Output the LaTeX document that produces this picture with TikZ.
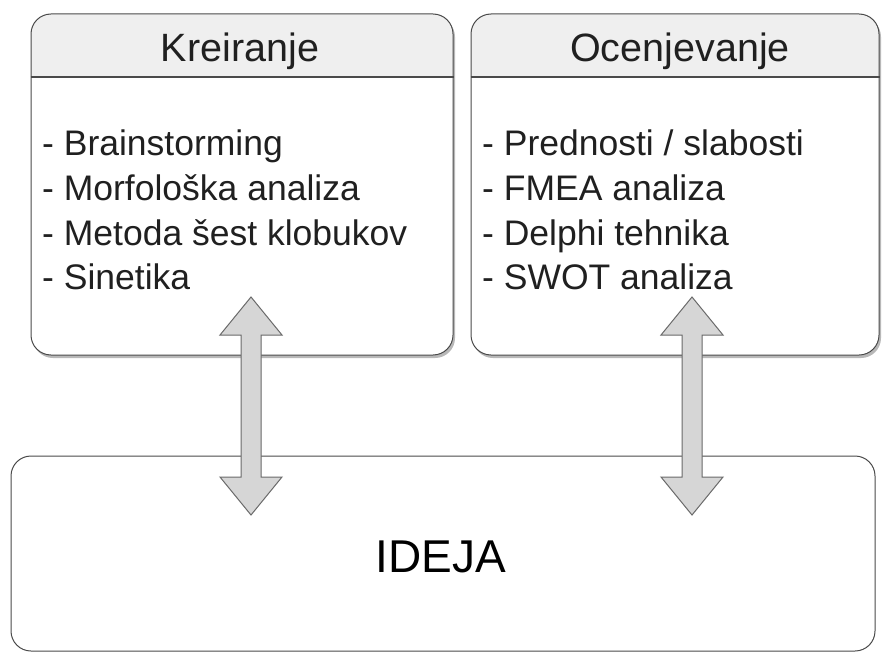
\documentclass[tikz,border=0pt]{standalone}
\usepackage{fontspec}
\setmainfont{Liberation Sans}
\usetikzlibrary{calc}
\definecolor{edge}{HTML}{4A4A4A}
\definecolor{hdr}{HTML}{EFEFEF}
\definecolor{shade}{HTML}{B8B8B8}
\definecolor{arrfill}{HTML}{D6D6D6}
\definecolor{arredge}{HTML}{6A6A6A}
\definecolor{txt}{HTML}{202020}
\newcommand\blockarrow[2]{%
  \draw[arrowshape] (#1) -- ($(#1)+(31,38)$) -- ($(#1)+(10,38)$) -- ($(#2)+(10,-38)$) -- ($(#2)+(31,-38)$) -- (#2)
    -- ($(#2)+(-31,-38)$) -- ($(#2)+(-10,-38)$) -- ($(#1)+(-10,38)$) -- ($(#1)+(-31,38)$) -- cycle;}
\begin{document}
\begin{tikzpicture}[x=1pt,y=-1pt,
  panel/.style={draw=edge, line width=1pt, rounded corners=20pt, rectangle, inner sep=0pt},
  shadowbox/.style={fill=shade, rounded corners=20pt},
  title/.style={anchor=base, text=txt, font=\fontsize{39.5}{44}\selectfont, inner sep=0pt},
  item/.style={anchor=base west, text=txt, font=\fontsize{35.5}{40}\selectfont, inner sep=0pt},
  big/.style={anchor=base, text=black, font=\fontsize{46}{50}\selectfont, inner sep=0pt},
  arrowshape/.style={fill=arrfill, draw=arredge, line width=1pt, line join=miter}]
\fill[white] (0,0) rectangle (882,655);
\useasboundingbox (0,0) rectangle (882,655);
% shadows
\fill[shadowbox] (33,17) rectangle (455,358);
\fill[shadowbox] (473,17) rectangle (881,358);
\fill[white, rounded corners=20pt] (31,14) rectangle (453,355);
\fill[white, rounded corners=20pt] (471,14) rectangle (879,355);
% header fills
\begin{scope}
\clip[rounded corners=20pt] (31,14) rectangle (453,355);
\fill[hdr] (31,14) rectangle (453,77);
\end{scope}
\begin{scope}
\clip[rounded corners=20pt] (471,14) rectangle (879,355);
\fill[hdr] (471,14) rectangle (879,77);
\end{scope}
% boxes
\node[panel, minimum width=422pt, minimum height=341pt] (kre) at (242,184.5) {};
\node[panel, minimum width=408pt, minimum height=341pt] (oce) at (675,184.5) {};
\draw[draw=edge, line width=1.5pt] (kre.west |- 0,77) -- (kre.east |- 0,77);
\draw[draw=edge, line width=1.5pt] (oce.west |- 0,77) -- (oce.east |- 0,77);
\node[title] (kt) at (240,62) {Kreiranje};
\node[title] (ot) at (680,62) {Ocenjevanje};
\node[item] (k1) at (42,156) {- Brainstorming};
\node[item] (k2) at (42,200.5) {- Morfološka analiza};
\node[item] (k3) at (42,245) {- Metoda šest klobukov};
\node[item] (k4) at (42,289.5) {- Sinetika};
\node[item] (o1) at (482,156) {- Prednosti / slabosti};
\node[item] (o2) at (482,200.5) {- FMEA analiza};
\node[item] (o3) at (482,245) {- Delphi tehnika};
\node[item] (o4) at (482,289.5) {- SWOT analiza};
% bottom box
\node[panel, fill=white, minimum width=864pt, minimum height=195pt] (ide) at (443,553.5) {};
\node[big] (idt) at (441,572) {IDEJA};
% arrows
\coordinate (a1t) at (251,297);
\coordinate (a1b) at (251,515);
\coordinate (a2t) at (692,297);
\coordinate (a2b) at (692,515);
\blockarrow{a1t}{a1b}
\blockarrow{a2t}{a2b}
\end{tikzpicture}
\end{document}
